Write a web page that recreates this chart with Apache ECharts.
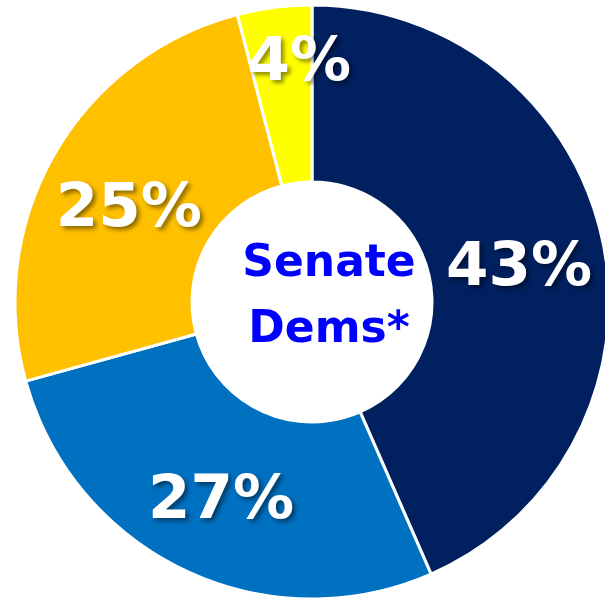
<!DOCTYPE html>
<html><head><meta charset="utf-8">
<style>html,body{margin:0;padding:0;background:#fff;}#c{width:605px;height:601px;}</style>
<script src="https://cdn.jsdelivr.net/npm/echarts@6/dist/echarts.min.js"></script>
</head><body><div id="c"></div>
<script>
const categories = ['A', 'B', 'C', 'D'];
const values = [43, 27, 25, 4];
const colors = ['#002060', '#0070C0', '#FFC000', '#FFFF00'];
const labelOffsets = [[0, 10], [0, 9], [0, 14], [14, -28]];
const centerText = 'Senate\nDems*';

const chart = echarts.init(document.getElementById('c'), null, {renderer: 'canvas'});
chart.setOption({
  animation: false,
  graphic: [{
    type: 'text', x: 329, y: 298,
    style: {
      text: centerText, fill: '#0000FF',
      font: 'bold 44px "DejaVu Sans"', lineHeight: 66,
      align: 'center', verticalAlign: 'middle'
    },
    z: 10
  }],
  series: [{
    type: 'pie',
    center: [312, 302],
    radius: [120, 297],
    startAngle: 90,
    clockwise: true,
    itemStyle: {borderColor: '#fff', borderWidth: 3},
    label: {
      show: true, position: 'inside',
      formatter: '{c}%',
      color: '#fff', fontFamily: 'DejaVu Sans', fontWeight: 'bold', fontSize: 61,
      textShadowColor: 'rgba(0,0,0,0.45)', textShadowBlur: 4,
      textShadowOffsetX: 3, textShadowOffsetY: 3
    },
    labelLine: {show: false},
    emphasis: {disabled: true},
    data: values.map((v, i) => ({
      name: categories[i], value: v,
      itemStyle: {color: colors[i]},
      label: {offset: labelOffsets[i]}
    }))
  }]
});
</script></body></html>
